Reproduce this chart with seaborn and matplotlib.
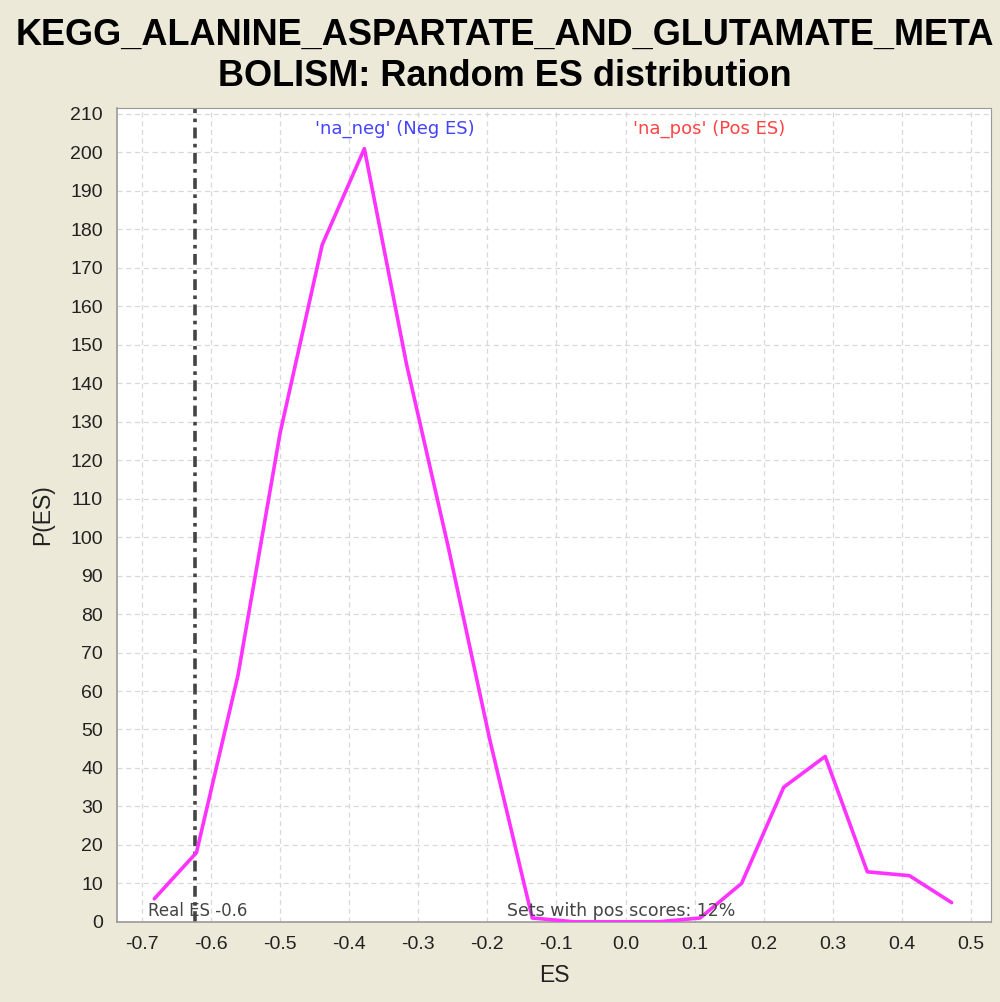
import numpy as np
import pandas as pd
import matplotlib
matplotlib.use("Agg")
import matplotlib.pyplot as plt
import seaborn as sns

# Random ES distribution
es_bins = [-0.682, -0.621, -0.561, -0.500, -0.439, -0.378, -0.317, -0.256,
           -0.196, -0.135, -0.074, -0.014, 0.047, 0.108, 0.168, 0.229,
           0.289, 0.350, 0.411, 0.472]
p_es = [6, 18, 64, 127, 176, 201, 145, 97, 47, 1, 0, 0, 0, 1, 10, 35,
        43, 13, 12, 5]
real_es = -0.623
pos_pct = 12

title = "KEGG_ALANINE_ASPARTATE_AND_GLUTAMATE_META\nBOLISM: Random ES distribution"
x_ticks = np.round(np.arange(-0.7, 0.51, 0.1), 1)
y_ticks = np.arange(0, 211, 10)

BG = "#ECE9D8"
df = pd.DataFrame({"ES": es_bins, "P(ES)": p_es})

sns.set_theme(style="whitegrid")
plt.rcParams["font.family"] = ["Liberation Sans", "DejaVu Sans"]
plt.rcParams["axes.unicode_minus"] = False

fig = plt.figure(figsize=(10, 10.02), dpi=100, facecolor=BG)
ax = fig.add_axes([0.117, 0.08, 0.874, 0.812])
ax.set_facecolor("white")

sns.lineplot(data=df, x="ES", y="P(ES)", ax=ax, color="#FF33FF", lw=2.6,
             zorder=3)
ax.axvline(real_es, color="#444444", lw=2.6, linestyle=(0, (3, 1.5, 1, 1.5)),
           zorder=2)

ax.set_xlim(-0.736, 0.529)
ax.set_ylim(0, 211.5)
ax.set_xticks(x_ticks)
ax.set_xticklabels([f"{v:.1f}" if v != 0 else "0.0" for v in x_ticks])
ax.set_yticks(y_ticks)
ax.tick_params(axis="both", labelsize=14, colors="#222222", length=4,
               direction="out", width=1, pad=6)
ax.tick_params(axis="both", color="#888888")
ax.grid(True, color="#d8d8d8", linestyle=(0, (4, 3)), lw=0.9)
for name, sp in ax.spines.items():
    sp.set_color("#999999")
    sp.set_linewidth(1.2 if name in ("left", "bottom") else 0.8)

ax.set_xlabel("ES", fontsize=16.5, color="#222222", labelpad=8)
ax.set_ylabel("P(ES)", fontsize=16.5, color="#222222", labelpad=12)

small = ["DejaVu Sans"]
ax.text(0.035, 0.002, f"Real ES {real_es:.1f}", transform=ax.transAxes,
        fontsize=12, color="#444444", ha="left", va="bottom", family=small)
ax.text(0.446, 0.002, f"Sets with pos scores: {pos_pct}%",
        transform=ax.transAxes, fontsize=12.5, color="#444444",
        ha="left", va="bottom", family=small)
ax.text(0.318, 0.975, "'na_neg' (Neg ES)", transform=ax.transAxes,
        fontsize=13, color="#4444FF", ha="center", va="center", family=small)
ax.text(0.678, 0.975, "'na_pos' (Pos ES)", transform=ax.transAxes,
        fontsize=13, color="#FF4444", ha="center", va="center", family=small)

fig.text(0.505, 0.944, title, ha="center", va="center", fontsize=26,
         fontweight="bold", color="black", linespacing=1.22)

fig.savefig("out.png", dpi=100, facecolor=BG)
